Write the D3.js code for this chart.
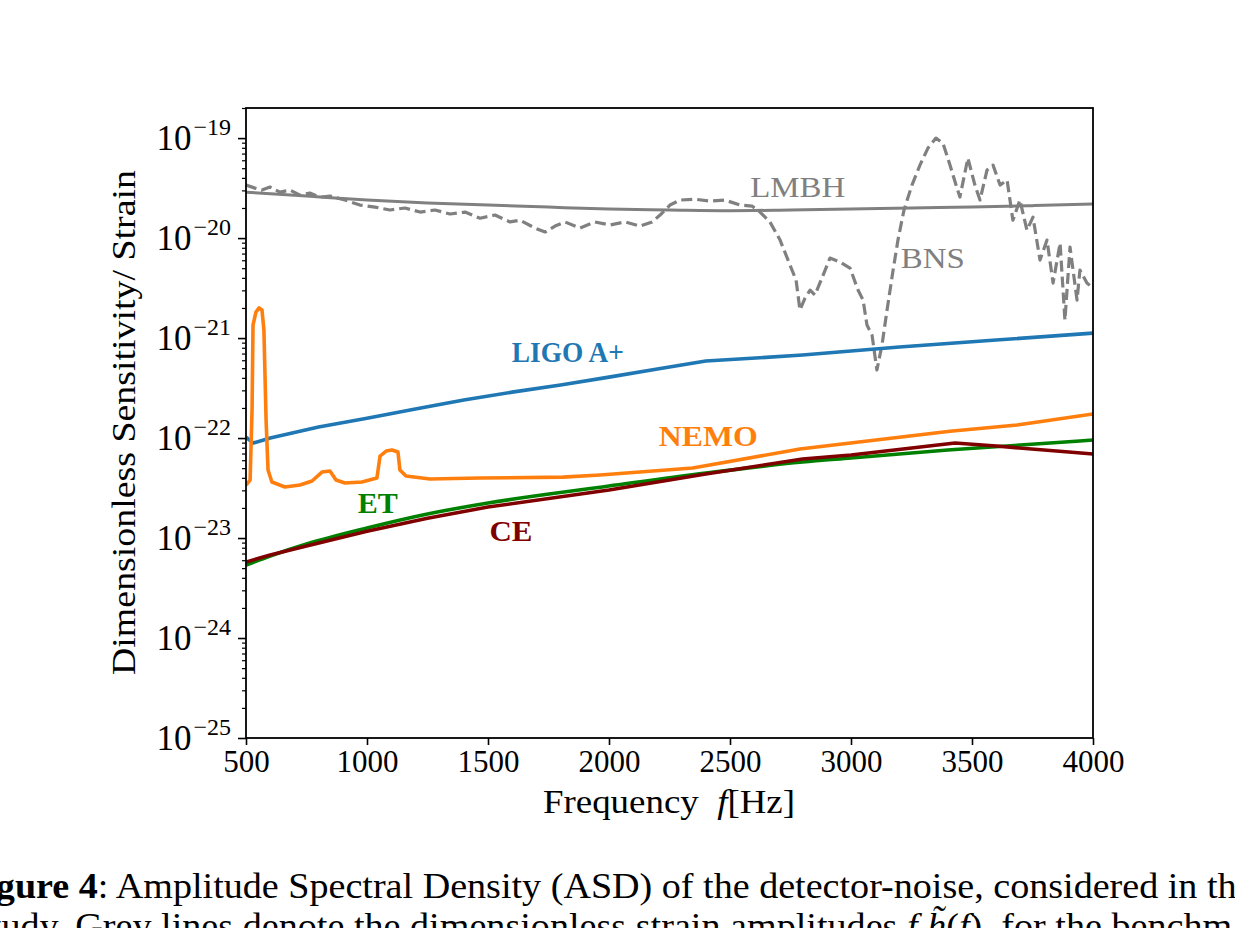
<!DOCTYPE html>
<html>
<head>
<meta charset="utf-8">
<script src="https://cdn.jsdelivr.net/npm/d3@7"></script>
<style>
  html, body { margin: 0; padding: 0; background: #fff; }
  svg { display: block; }
  text { font-family: "Liberation Serif", "DejaVu Serif", serif; }
</style>
</head>
<body>
<div id="chart"></div>
<script>
// ---- data (frequency in Hz, dimensionless ASD) ----
const xTicks = [500, 1000, 1500, 2000, 2500, 3000, 3500, 4000];
const yDecades = [-25, -24, -23, -22, -21, -20, -19];

const lmbhFreq = [500, 750, 1000, 1250, 1500, 1750, 2000, 2250, 2500, 2750, 3000, 3250, 3500, 3750, 4000];
const lmbhAsd  = [2.88e-20, 2.63e-20, 2.40e-20, 2.24e-20, 2.14e-20, 2.04e-20, 1.95e-20, 1.91e-20, 1.88e-20,
                  1.91e-20, 1.95e-20, 2.00e-20, 2.04e-20, 2.11e-20, 2.19e-20];

const bnsFreq = [500, 537, 566, 599, 640, 682, 723, 764, 806, 847, 909, 971, 1033, 1095, 1157, 1219, 1281, 1343,
                 1405, 1467, 1529, 1591, 1632, 1694, 1736, 1777, 1818, 1880, 1942, 2004, 2066, 2128, 2178, 2211,
                 2252, 2293, 2355, 2417, 2479, 2541, 2591, 2624, 2665, 2707, 2748, 2773, 2789, 2810, 2831, 2851,
                 2880, 2913, 2955, 2996, 3029, 3050, 3066, 3087, 3107, 3128, 3149, 3174, 3194, 3219, 3252, 3285,
                 3318, 3351, 3380, 3409, 3434, 3450, 3483, 3512, 3533, 3562, 3587, 3616, 3645, 3669, 3698, 3727,
                 3752, 3781, 3810, 3835, 3864, 3884, 3905, 3934, 3946, 3975, 4000];
const bnsAsd  = [3.39e-20, 3.16e-20, 3.02e-20, 3.24e-20, 2.88e-20, 3.02e-20, 2.69e-20, 2.82e-20, 2.57e-20, 2.63e-20,
                 2.40e-20, 2.14e-20, 2.04e-20, 1.91e-20, 2.00e-20, 1.82e-20, 1.91e-20, 1.74e-20, 1.82e-20, 1.58e-20,
                 1.70e-20, 1.45e-20, 1.51e-20, 1.26e-20, 1.15e-20, 1.32e-20, 1.45e-20, 1.26e-20, 1.45e-20, 1.35e-20,
                 1.45e-20, 1.32e-20, 1.45e-20, 1.70e-20, 2.14e-20, 2.40e-20, 2.45e-20, 2.34e-20, 2.40e-20, 2.14e-20,
                 2.09e-20, 1.82e-20, 1.45e-20, 9.55e-21, 5.37e-21, 3.80e-21, 1.91e-21, 2.51e-21, 3.02e-21, 2.69e-21,
                 3.98e-21, 6.31e-21, 5.75e-21, 5.01e-21, 3.02e-21, 2.40e-21, 1.35e-21, 1.07e-21, 4.79e-22, 8.51e-22,
                 1.91e-21, 4.79e-21, 9.55e-21, 1.91e-20, 3.39e-20, 5.37e-20, 7.94e-20, 1.00e-19, 8.91e-20, 5.37e-20,
                 3.39e-20, 2.57e-20, 6.31e-20, 3.39e-20, 2.40e-20, 4.79e-20, 5.37e-20, 3.39e-20, 3.80e-20, 1.51e-20,
                 2.40e-20, 1.20e-20, 1.62e-20, 6.03e-21, 9.55e-21, 3.55e-21, 8.91e-21, 1.51e-21, 8.13e-21, 2.40e-21,
                 4.79e-21, 3.55e-21, 3.16e-21];

const ligoFreq = [500, 530, 600, 800, 1000, 1200, 1400, 1600, 1800, 2000, 2200, 2400, 2800, 3200, 3600, 4000];
const ligoAsd  = [1.02e-22, 8.91e-23, 1.00e-22, 1.29e-22, 1.58e-22, 1.95e-22, 2.40e-22, 2.88e-22, 3.39e-22,
                  4.07e-22, 4.90e-22, 5.89e-22, 6.76e-22, 8.13e-22, 9.55e-22, 1.12e-21];

const nemoFreq = [500, 517, 525, 529, 541, 554, 566, 574, 583, 591, 607, 661, 723, 773, 814, 847, 872, 909, 979,
                  1041, 1054, 1079, 1103, 1128, 1136, 1161, 1260, 1467, 1810, 1963, 2346, 2789, 3409, 3686, 4000];
const nemoAsd  = [3.39e-23, 3.80e-23, 1.91e-22, 1.35e-21, 1.82e-21, 2.00e-21, 1.91e-21, 1.20e-21, 1.51e-22,
                  4.79e-23, 3.63e-23, 3.24e-23, 3.39e-23, 3.72e-23, 4.57e-23, 4.68e-23, 3.80e-23, 3.55e-23,
                  3.63e-23, 3.98e-23, 6.61e-23, 7.41e-23, 7.59e-23, 7.24e-23, 4.79e-23, 4.17e-23, 3.89e-23,
                  3.98e-23, 4.07e-23, 4.27e-23, 5.01e-23, 7.76e-23, 1.17e-22, 1.35e-22, 1.74e-22];

const etFreq = [500, 600, 750, 1000, 1250, 1500, 2000, 2400, 2800, 3000, 3400, 3700, 4000];
const etAsd  = [5.37e-24, 6.61e-24, 8.71e-24, 1.26e-23, 1.74e-23, 2.24e-23, 3.31e-23, 4.47e-23, 5.75e-23,
                6.31e-23, 7.59e-23, 8.51e-23, 9.55e-23];

const ceFreq = [500, 600, 750, 1000, 1250, 1500, 2000, 2400, 2800, 3000, 3430, 3600, 3900, 4000];
const ceAsd  = [5.75e-24, 6.76e-24, 8.32e-24, 1.17e-23, 1.58e-23, 2.04e-23, 3.02e-23, 4.37e-23, 6.17e-23,
                6.76e-23, 8.91e-23, 8.32e-23, 7.24e-23, 6.92e-23];

(function() {
  const W = 1235, H = 928;
  const plot = { left: 246, right: 1093, top: 108, bottom: 738 };

  const svg = d3.select("#chart")
    .append("svg")
    .attr("width", W)
    .attr("height", H);

  svg.append("rect").attr("width", W).attr("height", H).attr("fill", "#fff");

  const x = d3.scaleLinear().domain([500, 4000]).range([plot.left, plot.right]);
  const y = d3.scaleLog().domain([1e-25, 2e-19]).range([plot.bottom, plot.top]);

  const zip = (fs, vs) => fs.map((f, i) => ({ f, v: vs[i] }));

  const series = [
    { name: "LMBH",  data: zip(lmbhFreq, lmbhAsd), color: "#808080", width: 3.0, dash: null, curve: d3.curveMonotoneX },
    { name: "BNS",   data: zip(bnsFreq, bnsAsd),   color: "#808080", width: 3.2, dash: "11,5", curve: d3.curveLinear },
    { name: "LIGO",  data: zip(ligoFreq, ligoAsd), color: "#1f77b4", width: 3.6, dash: null, curve: d3.curveLinear },
    { name: "NEMO",  data: zip(nemoFreq, nemoAsd), color: "#ff7f0e", width: 3.6, dash: null, curve: d3.curveLinear },
    { name: "ET",    data: zip(etFreq, etAsd),     color: "#008000", width: 3.6, dash: null, curve: d3.curveMonotoneX },
    { name: "CE",    data: zip(ceFreq, ceAsd),     color: "#800000", width: 3.6, dash: null, curve: d3.curveLinear }
  ];

  svg.append("clipPath").attr("id", "clip")
    .append("rect")
    .attr("x", plot.left).attr("y", plot.top)
    .attr("width", plot.right - plot.left).attr("height", plot.bottom - plot.top);

  const linesG = svg.append("g").attr("clip-path", "url(#clip)");

  series.forEach(s => {
    const line = d3.line().x(d => x(d.f)).y(d => y(d.v)).curve(s.curve);
    linesG.append("path")
      .datum(s.data)
      .attr("d", line)
      .attr("fill", "none")
      .attr("stroke", s.color)
      .attr("stroke-width", s.width)
      .attr("stroke-linejoin", "round")
      .attr("stroke-dasharray", s.dash);
  });

  // In-plot labels (anchored at their left edge)
  const labels = [
    { text: "LMBH",    f: 2780, v: 2.6e-20,  color: "#808080", bold: false, len: 95 },
    { text: "BNS",     f: 3338, v: 5.0e-21,  color: "#808080", bold: false, len: 64 },
    { text: "LIGO A+", f: 1830, v: 5.75e-22, color: "#1f77b4", bold: true,  len: 112 },
    { text: "NEMO",    f: 2410, v: 8.3e-23,  color: "#ff7f0e", bold: true,  len: 99 },
    { text: "ET",      f: 1045, v: 1.78e-23, color: "#008000", bold: true,  len: 40 },
    { text: "CE",      f: 1595, v: 9.33e-24, color: "#800000", bold: true,  len: 43 }
  ];

  svg.append("g").selectAll("text")
    .data(labels)
    .join("text")
    .attr("x", d => x(d.f) - d.len / 2)
    .attr("y", d => y(d.v))
    .attr("textLength", d => d.len)
    .attr("lengthAdjust", "spacingAndGlyphs")
    .style("font-size", "29px")
    .style("font-weight", d => d.bold ? "700" : "400")
    .style("fill", d => d.color)
    .text(d => d.text);

  // Axes
  const xAxis = svg.append("g")
    .attr("transform", `translate(0,${plot.bottom})`)
    .call(d3.axisBottom(x).tickValues(xTicks).tickSize(7).tickPadding(5).tickFormat(d3.format("d")));
  xAxis.select(".domain").remove();
  xAxis.selectAll("line").attr("stroke", "#000").attr("stroke-width", 1.6);
  xAxis.selectAll("text")
    .style("font-family", "'Liberation Serif', serif")
    .style("font-size", "31px")
    .attr("fill", "#000");

  const majors = yDecades.map(e => Math.pow(10, e));
  const minors = [];
  yDecades.forEach(e => {
    for (let m = 2; m <= 9; m++) {
      const v = m * Math.pow(10, e);
      if (v <= 2.0001e-19) minors.push(v);
    }
  });

  const yMinor = svg.append("g")
    .attr("transform", `translate(${plot.left},0)`)
    .call(d3.axisLeft(y).tickValues(minors).tickSize(4).tickFormat(""));
  yMinor.select(".domain").remove();
  yMinor.selectAll("line").attr("stroke", "#000").attr("stroke-width", 1.2);

  const yMajor = svg.append("g")
    .attr("transform", `translate(${plot.left},0)`)
    .call(d3.axisLeft(y).tickValues(majors).tickSize(8).tickFormat(""));
  yMajor.select(".domain").remove();
  yMajor.selectAll("line").attr("stroke", "#000").attr("stroke-width", 1.6);

  const yLab = svg.append("g").selectAll("text")
    .data(yDecades)
    .join("text")
    .attr("x", 231)
    .attr("y", d => y(Math.pow(10, d)) + 12)
    .attr("text-anchor", "end")
    .style("font-size", "35px")
    .attr("fill", "#000");
  yLab.append("tspan").text("10");
  yLab.append("tspan")
    .attr("dx", 2)
    .attr("dy", -15)
    .style("font-size", "24px")
    .text(d => "\u2212" + Math.abs(d));

  // Frame
  svg.append("rect")
    .attr("x", plot.left).attr("y", plot.top)
    .attr("width", plot.right - plot.left).attr("height", plot.bottom - plot.top)
    .attr("fill", "none")
    .attr("stroke", "#000")
    .attr("stroke-width", 1.8);

  // Axis titles
  const xt = svg.append("text")
    .attr("x", 543)
    .attr("y", 813)
    .attr("textLength", 252)
    .attr("lengthAdjust", "spacingAndGlyphs")
    .style("font-size", "33px")
    .attr("fill", "#000");
  xt.append("tspan").text("Frequency\u00a0\u00a0");
  xt.append("tspan").style("font-style", "italic").text("f");
  xt.append("tspan").text("[Hz]");

  svg.append("text")
    .attr("transform", `translate(135,675) rotate(-90)`)
    .attr("textLength", 505)
    .attr("lengthAdjust", "spacingAndGlyphs")
    .style("font-size", "33px")
    .attr("fill", "#000")
    .text("Dimensionless Sensitivity/ Strain");

  // Caption (cropped by the page edges, as in the source)
  const cap1 = svg.append("text")
    .attr("x", -38)
    .attr("y", 898)
    .attr("textLength", 1300)
    .attr("lengthAdjust", "spacingAndGlyphs")
    .style("font-size", "36px")
    .attr("fill", "#000");
  cap1.append("tspan").style("font-weight", "700").text("Figure 4");
  cap1.append("tspan").text(": Amplitude Spectral Density (ASD) of the detector-noise, considered in this");

  const cap2 = svg.append("text")
    .attr("x", -24)
    .attr("y", 938)
    .attr("textLength", 1305)
    .attr("lengthAdjust", "spacingAndGlyphs")
    .style("font-size", "36px")
    .attr("fill", "#000");
  cap2.append("tspan").text("study. Grey lines denote the dimensionless strain amplitudes ");
  cap2.append("tspan").style("font-style", "italic").text("f h\u0303");
  cap2.append("tspan").text("(");
  cap2.append("tspan").style("font-style", "italic").text("f");
  cap2.append("tspan").text("), for the benchmark");
})();
</script>
</body>
</html>
